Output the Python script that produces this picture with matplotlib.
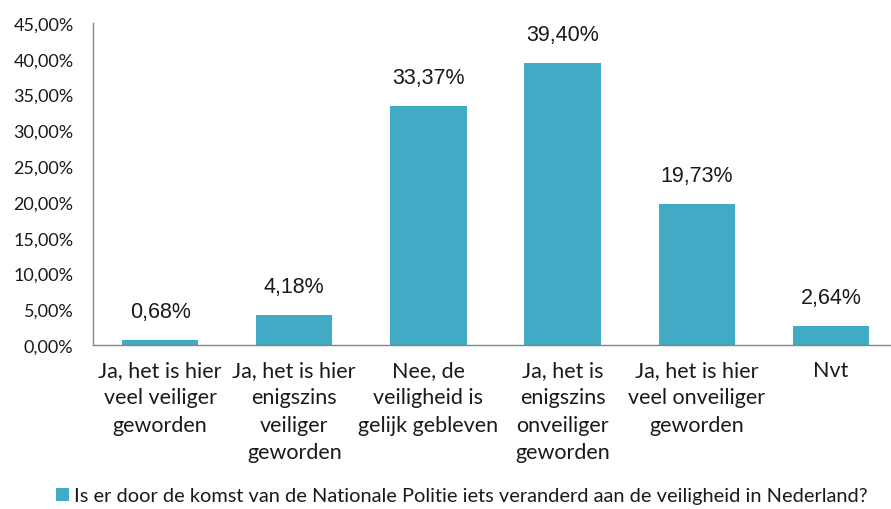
import matplotlib.pyplot as plt
import numpy as np

# answers and percentages
categories = ['Ja, het is hier\nveel veiliger\ngeworden',
              'Ja, het is hier\nenigszins\nveiliger\ngeworden',
              'Nee, de\nveiligheid is\ngelijk gebleven',
              'Ja, het is\nenigszins\nonveiliger\ngeworden',
              'Ja, het is hier\nveel onveiliger\ngeworden',
              'Nvt']
values = [0.68, 4.18, 33.37, 39.40, 19.73, 2.64]
yticks = [0, 5, 10, 15, 20, 25, 30, 35, 40, 45]
legend_label = 'Is er door de komst van de Nationale Politie iets veranderd aan de veiligheid in Nederland?'

bar_color = '#41abc6'
calibri_like = ['Lato', 'DejaVu Sans']
arial_like = ['Liberation Sans', 'DejaVu Sans']

fig = plt.figure(figsize=(8.91, 5.10), dpi=100)
ax = fig.add_axes([93 / 891, 1 - 346 / 510, 805 / 891, 322 / 510])

x = np.arange(len(categories))
bars = ax.bar(x, values, width=0.57, color=bar_color, label=legend_label)

# data labels above bars
for xi, v in zip(x, values):
    ax.annotate(f'{v:.2f}%'.replace('.', ','), (xi, v), xytext=(0, 13),
                textcoords='offset points', ha='center', va='bottom',
                fontsize=15.5, family=arial_like, color='#1a1a1a')

ax.set_xlim(-0.5, len(categories) - 0.5)
ax.set_ylim(0, 45)
ax.set_yticks(yticks)
ax.set_yticklabels([f'{t:.2f}%'.replace('.', ',') for t in yticks],
                   fontsize=13, family=calibri_like, color='#1a1a1a')
ax.set_xticks(x)
ax.set_xticklabels(categories, fontsize=15.5, family=calibri_like, color='#1a1a1a',
                   linespacing=1.45, va='top')
ax.tick_params(axis='both', length=0)
ax.tick_params(axis='y', pad=14)
ax.tick_params(axis='x', pad=11)

for s in ['top', 'right']:
    ax.spines[s].set_visible(False)
for s in ['left', 'bottom']:
    ax.spines[s].set_color('#868686')
    ax.spines[s].set_linewidth(1)

leg = fig.legend(loc='center', bbox_to_anchor=(462 / 891, 1 - 497 / 510),
                 frameon=False, prop={'family': calibri_like, 'size': 14.4},
                 handlelength=0.65, handleheight=0.65, handletextpad=0.25)
for t in leg.get_texts():
    t.set_color('#1a1a1a')

plt.savefig('out.png', dpi=100)
